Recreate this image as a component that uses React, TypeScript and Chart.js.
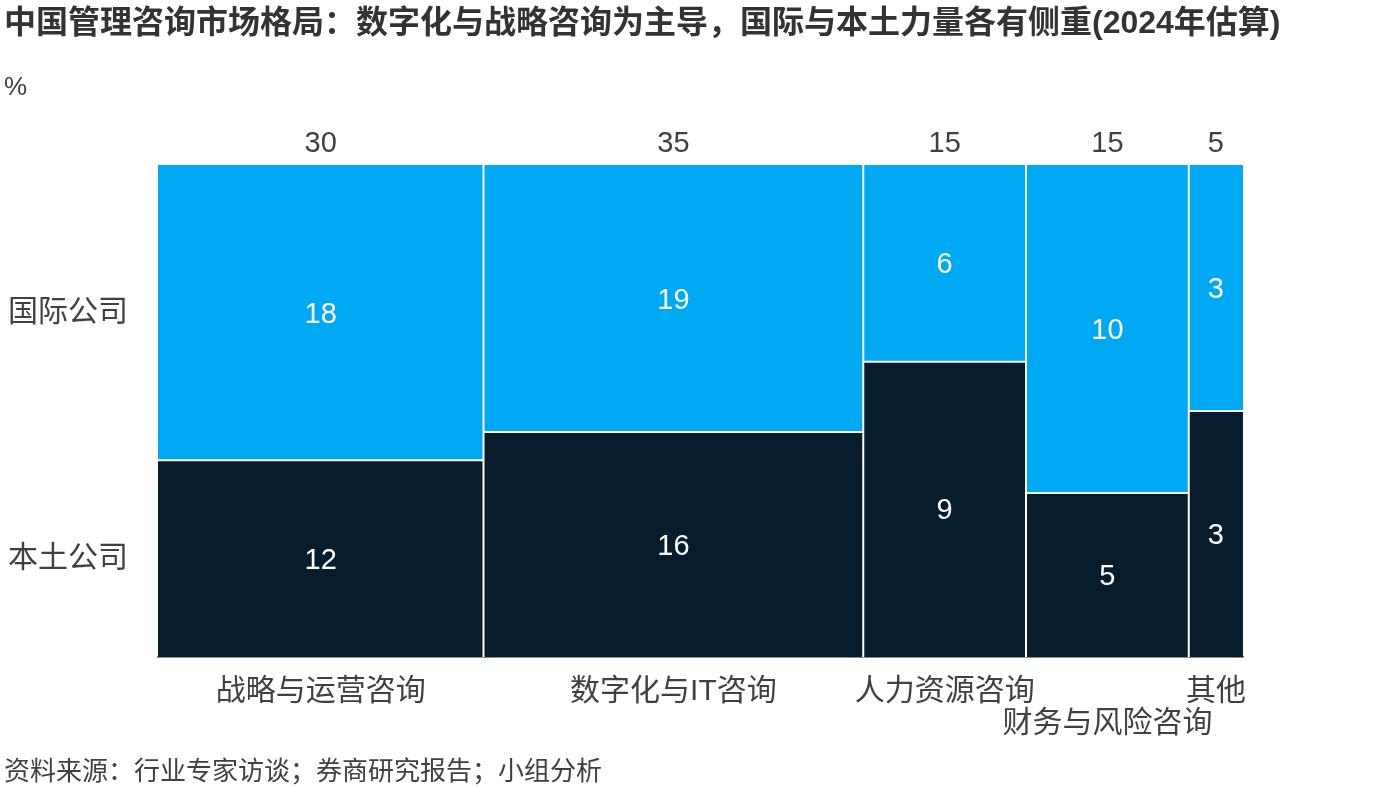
import React, { useEffect, useRef } from 'react';
import { Chart, registerables } from 'chart.js';

Chart.register(...registerables);

// ---- Data ----
const categories = ['战略与运营咨询', '数字化与IT咨询', '人力资源咨询', '财务与风险咨询', '其他'];
const columnTotals = [30, 35, 15, 15, 5];
const intlValues = [18, 19, 6, 10, 3];
const localValues = [12, 16, 9, 5, 3];
const seriesNames = ['国际公司', '本土公司'];
const titleText = '中国管理咨询市场格局：数字化与战略咨询为主导，国际与本土力量各有侧重(2024年估算)';
const unitText = '%';
const sourceText = '资料来源：行业专家访谈；券商研究报告；小组分析';

const BLUE = '#00A9F4';
const NAVY = '#071C2D';
const TEXT = '#404040';
const LATIN = '"Liberation Sans", Arial, "Noto Sans CJK SC", sans-serif';

// derived geometry (in data units)
const starts: number[] = [];
{
  let acc = 0;
  columnTotals.forEach((t) => {
    starts.push(acc);
    acc += t;
  });
}
const ends = starts.map((s, i) => s + columnTotals[i]);
const centers = starts.map((s, i) => s + columnTotals[i] / 2);
const splits = localValues.map((l, i) => (l / (l + intlValues[i])) * 100);

const textPlugin = {
  id: 'mekkoText',
  afterDatasetsDraw(chart: any) {
    const { ctx, scales } = chart;
    const x = scales.x;
    const y = scales.y;
    ctx.save();
    ctx.fillStyle = '#ffffff';
    ctx.font = `29px ${LATIN}`;
    ctx.textAlign = 'center';
    ctx.textBaseline = 'middle';
    columnTotals.forEach((_, i) => {
      const cx = x.getPixelForValue(centers[i]);
      ctx.fillText(String(localValues[i]), cx, y.getPixelForValue(splits[i] / 2) + 2);
      ctx.fillText(String(intlValues[i]), cx, y.getPixelForValue((splits[i] + 100) / 2) + 2);
    });
    ctx.restore();
  },
  afterDraw(chart: any) {
    const { ctx } = chart;
    ctx.save();
    ctx.textAlign = 'left';
    ctx.textBaseline = 'middle';
    ctx.fillStyle = '#333333';
    ctx.font = `bold 32px ${LATIN}`;
    ctx.fillText(titleText, 4, 24);
    ctx.fillStyle = TEXT;
    ctx.font = `26px ${LATIN}`;
    ctx.fillText(unitText, 4, 88);
    ctx.font = `26px ${LATIN}`;
    ctx.fillText(sourceText, 4, 773);
    ctx.restore();
  },
};

export default function App() {
  const ref = useRef<HTMLCanvasElement>(null);

  useEffect(() => {
    document.body.style.margin = '0';
    const canvas = ref.current;
    if (!canvas) return;

    const cellSets: any[] = [];
    columnTotals.forEach((_, i) => {
      cellSets.push({
        label: `${categories[i]}-${seriesNames[1]}`,
        data: [
          { x: starts[i], y: splits[i] },
          { x: ends[i], y: splits[i] },
        ],
        backgroundColor: NAVY,
        borderWidth: 0,
        pointRadius: 0,
        fill: { value: 0 },
      });
      cellSets.push({
        label: `${categories[i]}-${seriesNames[0]}`,
        data: [
          { x: starts[i], y: 100 },
          { x: ends[i], y: 100 },
        ],
        backgroundColor: BLUE,
        borderWidth: 0,
        pointRadius: 0,
        fill: { value: splits[i] },
      });
    });

    const sepSets: any[] = [];
    ends.slice(0, -1).forEach((e) => {
      sepSets.push({
        label: 'sep',
        data: [
          { x: e, y: 0 },
          { x: e, y: 100 },
        ],
        borderColor: '#ffffff',
        borderWidth: 2,
        pointRadius: 0,
        fill: false,
      });
    });
    columnTotals.forEach((_, i) => {
      sepSets.push({
        label: 'hsep',
        data: [
          { x: starts[i], y: splits[i] },
          { x: ends[i], y: splits[i] },
        ],
        borderColor: '#ffffff',
        borderWidth: 2,
        pointRadius: 0,
        fill: false,
      });
    });

    const yTickValues = [splits[0] / 2, (splits[0] + 100) / 2];
    const yTickLabels = [seriesNames[1], seriesNames[0]];

    const chart = new Chart(canvas, {
      type: 'line',
      data: { datasets: [...sepSets, ...cellSets] },
      options: {
        animation: false,
        responsive: false,
        parsing: false as any,
        normalized: true,
        layout: { padding: { left: 0, right: 156, top: 0, bottom: 0 } },
        plugins: {
          legend: { display: false },
          tooltip: { enabled: false },
          title: { display: false },
        },
        elements: { line: { tension: 0 } },
        scales: {
          x: {
            type: 'linear',
            position: 'bottom',
            min: 0,
            max: 100,
            grid: { display: false, drawTicks: false },
            border: { display: true, color: '#8c8c8c', width: 2 },
            afterBuildTicks: (scale: any) => {
              scale.ticks = centers.map((v) => ({ value: v }));
            },
            afterFit: (scale: any) => {
              scale.height = 130;
            },
            ticks: {
              autoSkip: false,
              maxRotation: 0,
              minRotation: 0,
              padding: 19,
              color: TEXT,
              font: { size: 30, family: LATIN, lineHeight: 1.05 },
              callback: (_v: any, idx: number) => (idx === 3 ? ['', categories[idx]] : categories[idx]),
            },
          },
          x2: {
            type: 'linear',
            position: 'top',
            min: 0,
            max: 100,
            grid: { display: false, drawTicks: false },
            border: { display: false },
            afterBuildTicks: (scale: any) => {
              scale.ticks = centers.map((v) => ({ value: v }));
            },
            afterFit: (scale: any) => {
              scale.height = 165;
            },
            ticks: {
              autoSkip: false,
              maxRotation: 0,
              minRotation: 0,
              padding: 4,
              color: TEXT,
              font: { size: 29, family: LATIN, lineHeight: 1.2 },
              callback: (_v: any, idx: number) => String(columnTotals[idx]),
            },
          },
          y: {
            type: 'linear',
            position: 'left',
            min: 0,
            max: 100,
            grid: { display: false, drawTicks: false },
            border: { display: false },
            afterBuildTicks: (scale: any) => {
              scale.ticks = yTickValues.map((v) => ({ value: v }));
            },
            afterFit: (scale: any) => {
              scale.width = 158;
            },
            ticks: {
              autoSkip: false,
              padding: 30,
              color: TEXT,
              font: { size: 30, family: LATIN },
              callback: (_v: any, idx: number) => yTickLabels[idx],
            },
          },
        },
      },
      plugins: [textPlugin],
    });

    return () => chart.destroy();
  }, []);

  return (
    <canvas
      ref={ref}
      width={1399}
      height={787}
      style={{ display: 'block', width: 1399, height: 787 }}
    />
  );
}
